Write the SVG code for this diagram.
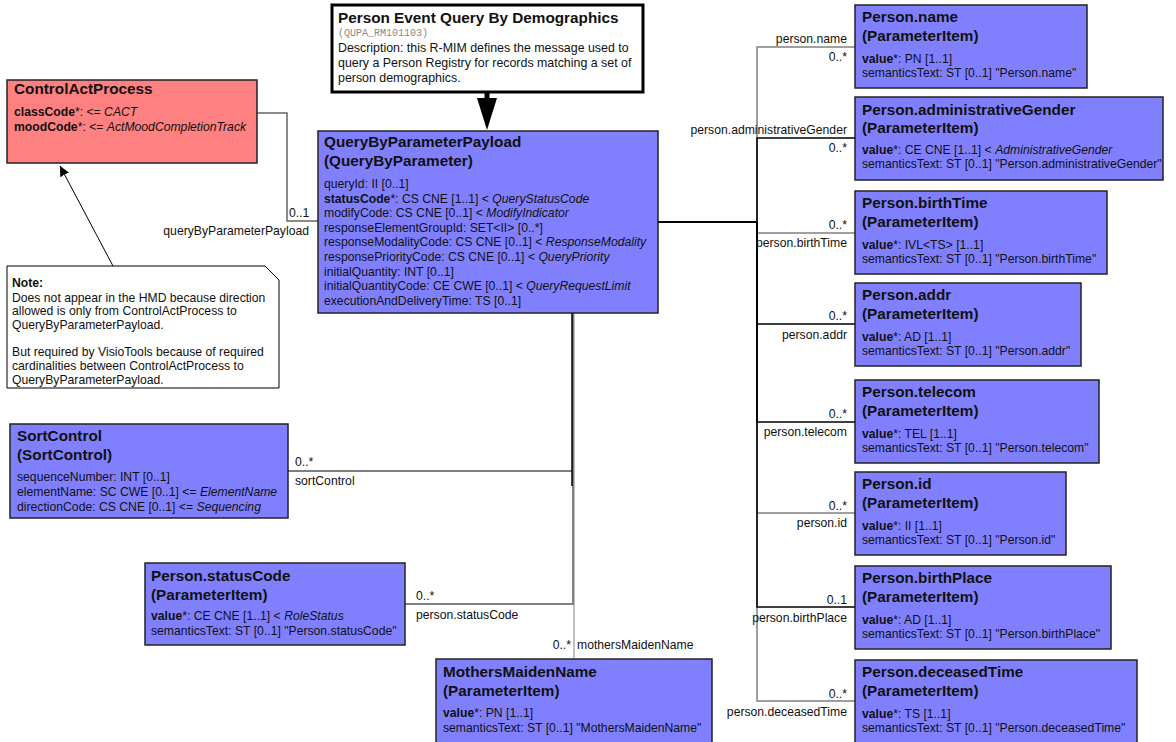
<svg xmlns="http://www.w3.org/2000/svg" width="1176" height="742" viewBox="0 0 1176 742">
<style>
text{font-family:"Liberation Sans",Arial,sans-serif;fill:#111}
.box{fill:#8080FF;stroke:#222;stroke-width:1.5}
.cap{fill:#FF8080;stroke:#222;stroke-width:1.5}
.t{font-size:15.3px;font-weight:bold}
.a{font-size:12.2px}
.b{font-weight:bold}
.i{font-style:italic}
.e{text-anchor:end}
.g{fill:none;stroke:#808080;stroke-width:1.5}
.k{fill:none;stroke:#000;stroke-width:1.5}
</style>
<defs>
<marker id="ah" viewBox="0 0 10 10" refX="10" refY="5" markerWidth="10" markerHeight="10" markerUnits="userSpaceOnUse" orient="auto">
<path d="M0,0 L10,5 L0,10 Z" fill="#000"/>
</marker>
</defs>
<g id="connectors">
<path class="g" d="M757,222 V47 H855"/>
<path class="g" d="M757,222 V233 H855"/>
<path class="g" d="M757,222 V513 H855"/>
<path class="g" d="M757,222 V701 H855"/>
<path class="k" d="M757,222 V138 H855"/>
<path class="k" d="M757,222 V324 H855"/>
<path class="k" d="M757,222 V422 H855"/>
<path class="k" d="M757,222 V607 H855"/>
<path class="k" style="stroke-width:2" d="M658,222 H757"/>
<path class="g" style="stroke:#666" d="M318,221 H287 V113 H257"/>
<path class="g" style="stroke-width:1" d="M574,313 V658"/>
<path class="g" style="stroke-width:2" d="M573,313 V604 H405"/>
<path class="k" d="M572,313 V486"/>
<path class="k" style="stroke-width:1" d="M572,471 H288"/>
<path class="k" style="stroke-width:1" d="M113,266 L60,166" marker-end="url(#ah)"/>
<path d="M487,92 V102" stroke="#000" stroke-width="5"/>
<polygon points="477,98 497,98 487,130" fill="#000"/>
<g class="a">
<text x="847" y="43" class="e">person.name</text>
<text x="847" y="61" class="e">0..*</text>
<text x="847" y="134" class="e">person.administrativeGender</text>
<text x="847" y="152" class="e">0..*</text>
<text x="847" y="229" class="e">0..*</text>
<text x="847" y="247" class="e">person.birthTime</text>
<text x="847" y="320" class="e">0..*</text>
<text x="847" y="339" class="e">person.addr</text>
<text x="847" y="418" class="e">0..*</text>
<text x="847" y="436" class="e">person.telecom</text>
<text x="847" y="510" class="e">0..*</text>
<text x="847" y="527" class="e">person.id</text>
<text x="847" y="604" class="e">0..1</text>
<text x="847" y="622" class="e">person.birthPlace</text>
<text x="847" y="698" class="e">0..*</text>
<text x="847" y="716" class="e">person.deceasedTime</text>
<text x="289" y="217">0..1</text>
<text x="309" y="235" class="e">queryByParameterPayload</text>
<text x="295" y="466">0..*</text>
<text x="295" y="485">sortControl</text>
<text x="416" y="600">0..*</text>
<text x="416" y="619">person.statusCode</text>
<text x="571" y="649" class="e">0..*</text>
<text x="577" y="649">mothersMaidenName</text>
</g>
</g>
<g id="header">
<rect x="332" y="5" width="311" height="87" fill="#fff" stroke="#000" stroke-width="3"/>
<text x="338" y="23" class="t">Person Event Query By Demographics</text>
<text x="338" y="36" style="font-family:'Liberation Mono','Courier New',monospace;font-size:10px;fill:#888">(QUPA_RM101103)</text>
<text x="338" y="52" style="font-size:12.4px">Description: this R-MIM defines the message used to</text>
<text x="338" y="67" style="font-size:12.4px">query a Person Registry for records matching a set of</text>
<text x="338" y="82" style="font-size:12.4px">person demographics.</text>
</g>
<g id="controlActProcess">
<rect class="cap" x="7" y="80" width="250" height="83"/>
<text x="14" y="94" class="t">ControlActProcess</text>
<text x="14" y="116" class="a"><tspan class="b">classCode</tspan>*: &lt;= <tspan class="i">CACT</tspan></text>
<text x="14" y="131" class="a"><tspan class="b">moodCode</tspan>*: &lt;= <tspan class="i">ActMoodCompletionTrack</tspan></text>
</g>
<g id="note">
<path d="M7,266 H265 L279,280 V388 H7 Z" fill="#fff" stroke="#000" stroke-width="1"/>
<text x="12" y="287" class="a b">Note:</text>
<text x="12" y="302" class="a">Does not appear in the HMD because direction</text>
<text x="12" y="315" class="a">allowed is only from ControlActProcess to</text>
<text x="12" y="329" class="a">QueryByParameterPayload.</text>
<text x="12" y="356" class="a">But required by VisioTools because of required</text>
<text x="12" y="370" class="a">cardinalities between ControlActProcess to</text>
<text x="12" y="384" class="a">QueryByParameterPayload.</text>
</g>
<g id="queryByParameterPayload">
<rect class="box" x="318" y="131" width="340" height="182"/>
<text x="324" y="147" class="t">QueryByParameterPayload</text>
<text x="324" y="166" class="t">(QueryByParameter)</text>
<g class="a">
<text x="324" y="188">queryId: II [0..1]</text>
<text x="324" y="202.6"><tspan class="b">statusCode</tspan>*: CS CNE [1..1] &lt; <tspan class="i">QueryStatusCode</tspan></text>
<text x="324" y="217.2">modifyCode: CS CNE [0..1] &lt; <tspan class="i">ModifyIndicator</tspan></text>
<text x="324" y="231.8">responseElementGroupId: SET&lt;II&gt; [0..*]</text>
<text x="324" y="246.4">responseModalityCode: CS CNE [0..1] &lt; <tspan class="i">ResponseModality</tspan></text>
<text x="324" y="261">responsePriorityCode: CS CNE [0..1] &lt; <tspan class="i">QueryPriority</tspan></text>
<text x="324" y="275.6">initialQuantity: INT [0..1]</text>
<text x="324" y="290.2">initialQuantityCode: CE CWE [0..1] &lt; <tspan class="i">QueryRequestLimit</tspan></text>
<text x="324" y="304.8">executionAndDeliveryTime: TS [0..1]</text>
</g>
</g>
<g id="sortControl">
<rect class="box" x="10" y="424" width="278" height="94"/>
<text x="17" y="441" class="t">SortControl</text>
<text x="17" y="460" class="t">(SortControl)</text>
<text x="17" y="481" class="a">sequenceNumber: INT [0..1]</text>
<text x="17" y="496" class="a">elementName: SC CWE [0..1] &lt;= <tspan class="i">ElementName</tspan></text>
<text x="17" y="511" class="a">directionCode: CS CNE [0..1] &lt;= <tspan class="i">Sequencing</tspan></text>
</g>
<g id="personStatusCode">
<rect class="box" x="145" y="563" width="260" height="82"/>
<text x="151" y="581" class="t">Person.statusCode</text>
<text x="151" y="600" class="t">(ParameterItem)</text>
<text x="151" y="620" class="a"><tspan class="b">value</tspan>*: CE CNE [1..1] &lt; <tspan class="i">RoleStatus</tspan></text>
<text x="151" y="635" class="a">semanticsText: ST [0..1] "Person.statusCode"</text>
</g>
<g id="mothersMaidenName">
<rect class="box" x="436" y="659" width="276" height="86"/>
<text x="443" y="677" class="t">MothersMaidenName</text>
<text x="443" y="696" class="t">(ParameterItem)</text>
<text x="443" y="717" class="a"><tspan class="b">value</tspan>*: PN [1..1]</text>
<text x="443" y="732" class="a">semanticsText: ST [0..1] "MothersMaidenName"</text>
</g>
<g id="personName">
<rect class="box" x="855" y="5" width="232" height="83"/>
<text x="862" y="22" class="t">Person.name</text>
<text x="862" y="41" class="t">(ParameterItem)</text>
<text x="862" y="63" class="a"><tspan class="b">value</tspan>*: PN [1..1]</text>
<text x="862" y="77" class="a">semanticsText: ST [0..1] "Person.name"</text>
</g>
<g id="personAdministrativeGender">
<rect class="box" x="855" y="97" width="308" height="83"/>
<text x="862" y="115" class="t">Person.administrativeGender</text>
<text x="862" y="133" class="t">(ParameterItem)</text>
<text x="862" y="154" class="a"><tspan class="b">value</tspan>*: CE CNE [1..1] &lt; <tspan class="i">AdministrativeGender</tspan></text>
<text x="862" y="168" class="a">semanticsText: ST [0..1] "Person.administrativeGender"</text>
</g>
<g id="personBirthTime">
<rect class="box" x="855" y="191" width="252" height="83"/>
<text x="862" y="208" class="t">Person.birthTime</text>
<text x="862" y="227" class="t">(ParameterItem)</text>
<text x="862" y="249" class="a"><tspan class="b">value</tspan>*: IVL&lt;TS&gt; [1..1]</text>
<text x="862" y="263" class="a">semanticsText: ST [0..1] "Person.birthTime"</text>
</g>
<g id="personAddr">
<rect class="box" x="855" y="283" width="226" height="83"/>
<text x="862" y="300" class="t">Person.addr</text>
<text x="862" y="319" class="t">(ParameterItem)</text>
<text x="862" y="341" class="a"><tspan class="b">value</tspan>*: AD [1..1]</text>
<text x="862" y="355" class="a">semanticsText: ST [0..1] "Person.addr"</text>
</g>
<g id="personTelecom">
<rect class="box" x="855" y="380" width="244" height="83"/>
<text x="862" y="397" class="t">Person.telecom</text>
<text x="862" y="416" class="t">(ParameterItem)</text>
<text x="862" y="438" class="a"><tspan class="b">value</tspan>*: TEL [1..1]</text>
<text x="862" y="452" class="a">semanticsText: ST [0..1] "Person.telecom"</text>
</g>
<g id="personId">
<rect class="box" x="855" y="472" width="211" height="83"/>
<text x="862" y="489" class="t">Person.id</text>
<text x="862" y="508" class="t">(ParameterItem)</text>
<text x="862" y="530" class="a"><tspan class="b">value</tspan>*: II [1..1]</text>
<text x="862" y="544" class="a">semanticsText: ST [0..1] "Person.id"</text>
</g>
<g id="personBirthPlace">
<rect class="box" x="855" y="566" width="256" height="83"/>
<text x="862" y="583" class="t">Person.birthPlace</text>
<text x="862" y="602" class="t">(ParameterItem)</text>
<text x="862" y="624" class="a"><tspan class="b">value</tspan>*: AD [1..1]</text>
<text x="862" y="638" class="a">semanticsText: ST [0..1] "Person.birthPlace"</text>
</g>
<g id="personDeceasedTime">
<rect class="box" x="855" y="660" width="282" height="85"/>
<text x="862" y="677" class="t">Person.deceasedTime</text>
<text x="862" y="696" class="t">(ParameterItem)</text>
<text x="862" y="718" class="a"><tspan class="b">value</tspan>*: TS [1..1]</text>
<text x="862" y="732" class="a">semanticsText: ST [0..1] "Person.deceasedTime"</text>
</g>
</svg>
